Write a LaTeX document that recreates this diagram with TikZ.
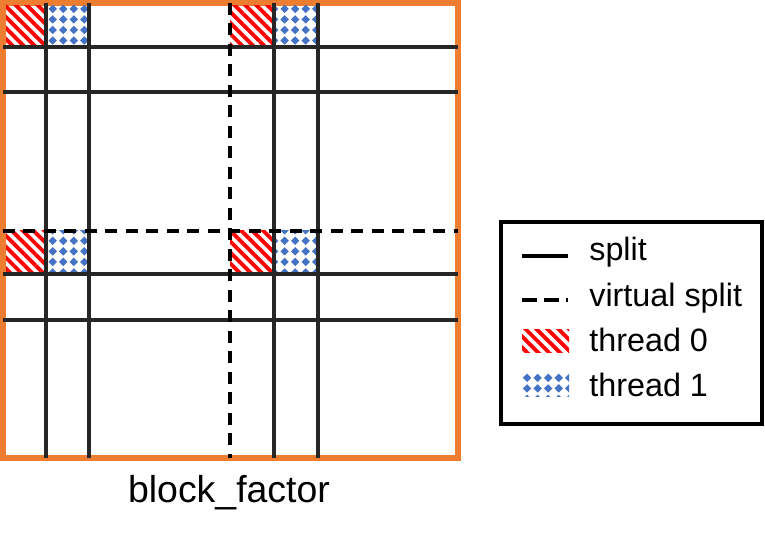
\documentclass[tikz,border=0pt]{standalone}
\usepackage{fontspec}
\setmainfont{Liberation Sans}
\usetikzlibrary{patterns.meta}

\definecolor{frameorange}{HTML}{ED7D31}
\definecolor{gridgray}{HTML}{262626}
\definecolor{threadblue}{HTML}{4472C4}

% diamond dots for thread 1
\tikzdeclarepattern{
  name=diamonddots,
  type=uncolored,
  bounding box={(-3pt,-3pt) and (3pt,3pt)},
  tile size={(6pt,6pt)},
  code={\fill (0pt,-2.4pt) -- (2.4pt,0pt) -- (0pt,2.4pt) -- (-2.4pt,0pt) -- cycle;}
}

\begin{document}
\begin{tikzpicture}[
    x=0.02cm, y=-0.02cm, % ONE UNIT = ONE PIXEL OF THE 765x536 CANVAS
    % Line styles: solid split and dashed virtual split
    split/.style={draw=gridgray,line width=2pt},
    vsplit/.style={draw=black,line width=2pt,dash pattern=on 0.24cm off 0.17cm},
    % Fill styles for the two threads
    thread0/.style={pattern={Lines[angle=-45,distance=4.4pt,line width=2.2pt]},pattern color=red},
    thread1/.style={pattern=diamonddots,pattern color=threadblue},
    % Legend text style
    lbl/.style={font=\fontsize{18.4}{22}\selectfont,anchor=base west,inner sep=0pt}
]
\useasboundingbox (0,0) rectangle (765,536);

% ==============================
% TUNING KNOBS
% ==============================
\def\xA{46}    % first split column
\def\xB{89}    % second split column
\def\xV{230}   % virtual split column
\def\xC{274}
\def\xD{318}
\def\yA{47}    % first split row
\def\yB{92}
\def\yV{231}   % virtual split row
\def\yC{274}
\def\yD{320}

% ==============================
% OUTER BLOCK (orange frame)
% ==============================
\node[draw=frameorange,line width=3.4pt,minimum width=9.1cm,minimum height=9.1cm,inner sep=0pt]
    (frame) at (230.5,230.5) {};

% THREAD CELLS: red = thread 0, blue = thread 1
\fill[thread0] (6,6) rectangle (\xA,\yA);
\fill[thread1] (\xA,6) rectangle (\xB,\yA);
\fill[thread0] (\xV,6) rectangle (\xC,\yA);
\fill[thread1] (\xC,6) rectangle (\xD,\yA);
\fill[thread0] (6,\yV) rectangle (\xA,\yC);
\fill[thread1] (\xA,\yV) rectangle (\xB,\yC);
\fill[thread0] (\xV,\yV) rectangle (\xC,\yC);
\fill[thread1] (\xC,\yV) rectangle (\xD,\yC);

% SPLIT LINES
\foreach \x in {\xA,\xB,\xC,\xD} {
  \draw[split] (\x,3) -- (\x,458);
}
\foreach \y in {\yA,\yB,\yC,\yD} {
  \draw[split] (3,\y) -- (458,\y);
}
\draw[vsplit] (\xV,3) -- (\xV,458);
\draw[vsplit] (3,\yV) -- (458,\yV);

% AXIS LABEL
\node[font=\fontsize{21.3}{25}\selectfont,anchor=base,inner sep=0pt] (blockfactor) at (229,503) {block\_factor};

% ==============================
% LEGEND
% ==============================
\node[draw=black,line width=2pt,minimum width=5.22cm,minimum height=4.04cm,inner sep=0pt]
    (legend) at (631.5,323) {};

\coordinate (ks0) at (522,256);
\coordinate (ks1) at (568,256);
\draw[black,line width=2pt] (ks0) -- (ks1);
\node[lbl] (tsplit) at (589,261) {split};

\coordinate (kv0) at (522,300);
\coordinate (kv1) at (568,300);
\draw[black,line width=2pt,dash pattern=on 0.3cm off 0.14cm] (kv0) -- (kv1);
\node[lbl] (tvsplit) at (589,307) {virtual split};

\fill[thread0] (522,330) rectangle (569,353);
\node[lbl] (tthread0) at (589,352) {thread 0};

\fill[thread1] (522,373) rectangle (569,397);
\node[lbl] (tthread1) at (589,397) {thread 1};
\end{tikzpicture}
\end{document}
